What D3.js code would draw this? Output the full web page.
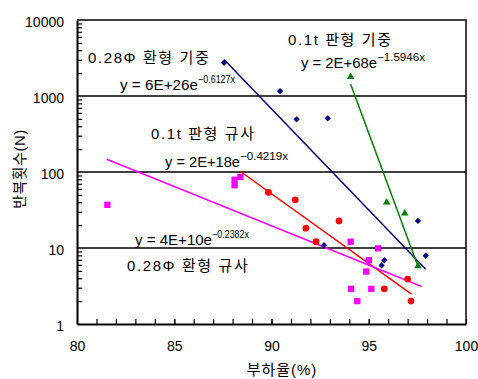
<!DOCTYPE html>
<html>
<head>
<meta charset="utf-8">
<script src="https://cdn.jsdelivr.net/npm/d3@7"></script>
<style>
  body { margin: 0; background: #fff; }
  svg { display: block; }
  text { font-family: "Liberation Sans", "Noto Sans CJK KR", Arial, sans-serif; fill: #000; }
</style>
</head>
<body>
<div id="chart"></div>
<script>
// axis ticks
const xTicks = [80, 85, 90, 95, 100];
const yTicks = [1, 10, 100, 1000, 10000];

// measured points [load %, cycles]
const ringAir = [[87.56, 2730], [90.44, 1160], [91.29, 493], [92.89, 508], [92.70, 10.9],
  [97.53, 22.7], [97.93, 7.9], [95.80, 6.9], [95.66, 5.9]];
const plateAir = [[94.07, 1790], [95.92, 40], [96.85, 28.6], [97.53, 5.8]];
const plateSand = [[89.84, 54], [91.22, 43], [91.77, 18.2], [93.47, 22.7], [92.29, 12.1],
  [97.0, 3.9], [95.80, 2.9], [97.17, 2.0]];
const ringSand = [[81.56, 37], [88.1, 79], [88.1, 67], [88.4, 86], [94.07, 12.1], [95.48, 9.9],
  [95.01, 6.9], [94.87, 4.9], [94.09, 2.9], [95.13, 2.9], [94.41, 2.0]];

// exponential trendlines y = a*e^(b*x), over [x0, x1]
const trendA = [6e26, 2e68, 1.6e18, 4e10];
const trendB = [-0.6127, -1.5946, -0.4219, -0.2382];
const trendX0 = [87.56, 94.07, 88.4, 81.53];
const trendX1 = [97.93, 97.53, 97.2, 97.72];

const width = 478, height = 379;
const plotL = 77, plotR = 466, plotT = 20, plotB = 324;

const svg = d3.select('#chart').append('svg')
  .attr('width', width).attr('height', height);

const x = d3.scaleLinear().domain([80, 100]).range([plotL, plotR]);
const y = d3.scaleLog().domain([1, 10000]).range([plotB, plotT]);

// gridlines
svg.append('g').selectAll('line')
  .data([10, 100, 1000])
  .enter().append('line')
  .attr('x1', plotL).attr('x2', plotR)
  .attr('y1', d => y(d)).attr('y2', d => y(d))
  .attr('stroke', '#000').attr('stroke-width', 1.5);

// frame
svg.append('path')
  .attr('d', `M${plotL},${plotT}H${plotR}V${plotB}`)
  .attr('fill', 'none').attr('stroke', '#000').attr('stroke-width', 1.5);

// x axis
svg.append('g').attr('transform', `translate(0,${plotB})`)
  .call(d3.axisBottom(x).tickValues(xTicks).tickFormat(d3.format('d'))
    .tickSizeInner(-5).tickSizeOuter(0).tickPadding(17));
svg.append('g').attr('transform', `translate(0,${plotB})`)
  .call(d3.axisBottom(x).tickValues(d3.range(81, 100)).tickFormat('')
    .tickSizeInner(-5).tickSizeOuter(0))
  .select('.domain').remove();

// y axis
const yAxis = svg.append('g').attr('transform', `translate(${plotL},0)`)
  .call(d3.axisLeft(y).tickValues(yTicks).tickFormat(d3.format('d'))
    .tickSizeInner(0).tickSizeOuter(0).tickPadding(13));
const minorY = [];
yTicks.slice(0, -1).forEach(t => { for (let k = 2; k < 10; k++) minorY.push(t * k); });
svg.append('g').attr('transform', `translate(${plotL},0)`)
  .call(d3.axisLeft(y).tickValues(minorY).tickFormat('')
    .tickSizeInner(-5).tickSizeOuter(0))
  .select('.domain').remove();

svg.selectAll('.domain').attr('stroke', '#000').attr('stroke-width', 2);
svg.selectAll('.tick line').attr('stroke', '#000').attr('stroke-width', 1.2);
svg.selectAll('.tick text').style('font-size', '14px').attr('fill', '#000');
yAxis.selectAll('.tick text').attr('dy', '0.45em');

// trendlines
const colors = ['#000080', '#008000', '#ff0000', '#ff00ff'];
const line = d3.line().x(d => x(d[0])).y(d => y(d[1]));
trendA.forEach((a, i) => {
  const pts = [trendX0[i], trendX1[i]].map(v => [v, a * Math.exp(trendB[i] * v)]);
  svg.append('path')
    .attr('d', line(pts))
    .attr('fill', 'none')
    .attr('stroke', colors[i])
    .attr('stroke-width', 1.5);
});

// markers
function drawPoints(data, color, type, size, rot) {
  svg.append('g').selectAll('path')
    .data(data)
    .enter().append('path')
    .attr('d', d3.symbol().type(type).size(size))
    .attr('transform', d => `translate(${x(d[0])},${y(d[1])}) rotate(${rot})`)
    .attr('fill', color);
}
drawPoints(plateSand, colors[2], d3.symbolCircle, 36, 0);
drawPoints(ringSand, colors[3], d3.symbolSquare, 40, 0);
drawPoints(ringAir, colors[0], d3.symbolSquare, 20, 45);
drawPoints(plateAir, colors[1], d3.symbolTriangle, 24, 0);

// annotations
const labels = [
  { t: '0.28Φ 환형 기중', x: 88, y: 63 },
  { t: '0.1t 판형 기중', x: 288, y: 45 },
  { t: '0.1t 판형 규사', x: 151, y: 139 },
  { t: '0.28Φ 환형 규사', x: 127, y: 271 }
];
labels.forEach(l => {
  svg.append('text').attr('x', l.x).attr('y', l.y)
    .style('font-size', '15px')
    .style('letter-spacing', '1.6px')
    .text(l.t);
});

const equations = [
  { base: 'y = 6E+26e', sup: '−0.6127x', x: 120, y: 90, w: 78, sw: 37 },
  { base: 'y = 2E+68e', sup: '−1.5946x', x: 301, y: 68, w: 76, sw: 48 },
  { base: 'y = 2E+18e', sup: '−0.4219x', x: 165, y: 167, w: 75, sw: 48 },
  { base: 'y = 4E+10e', sup: '−0.2382x', x: 135, y: 245, w: 77, sw: 37 }
];
equations.forEach(e => {
  svg.append('text').attr('x', e.x).attr('y', e.y)
    .attr('textLength', e.w).attr('lengthAdjust', 'spacingAndGlyphs')
    .style('font-size', '15px')
    .text(e.base);
  svg.append('text').attr('x', e.x + e.w).attr('y', e.y - 7.5)
    .attr('textLength', e.sw).attr('lengthAdjust', 'spacingAndGlyphs')
    .style('font-size', '10.5px')
    .text(e.sup);
});

// axis titles
svg.append('text')
  .attr('x', 282).attr('y', 375)
  .attr('text-anchor', 'middle')
  .style('font-size', '15px')
  .style('letter-spacing', '1px')
  .text('부하율(%)');

svg.append('text')
  .attr('transform', 'translate(25,169) rotate(-90)')
  .attr('text-anchor', 'middle')
  .style('font-size', '15px')
  .style('letter-spacing', '0.5px')
  .text('반복횟수(N)');
</script>
</body>
</html>
